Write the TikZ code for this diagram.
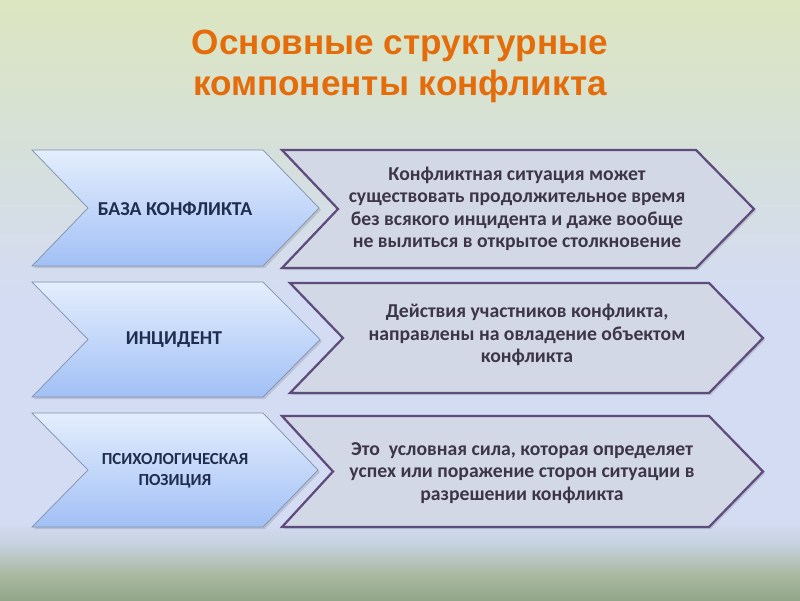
\documentclass[tikz,border=0pt]{standalone}
\usepackage{fontspec}
\setmainfont{Carlito}
\newfontfamily\headfont{Liberation Sans}

\definecolor{titleorange}{HTML}{E46C0A}
\definecolor{leftink}{HTML}{1F2D4E}
\definecolor{rightink}{HTML}{3D3548}
\definecolor{leftedge}{HTML}{8090AC}
\definecolor{leftlight}{HTML}{E4EEFD}
\definecolor{leftdark}{HTML}{A2C0F6}
\definecolor{rightedge}{HTML}{5E4D7C}
\definecolor{rightfill}{HTML}{D3D8E6}
\definecolor{bgtop}{HTML}{DCE6C0}
\definecolor{bgmint}{HTML}{D6E0DA}
\definecolor{bgblue}{HTML}{D4DCF4}
\definecolor{bglow}{HTML}{C4D0DC}
\definecolor{bgfoot}{HTML}{A8B89E}
\definecolor{bgbottom}{HTML}{92A68A}

\pgfdeclareverticalshading{slidebg}{100bp}{color(0bp)=(bgbottom); color(25bp)=(bgbottom);
 color(27bp)=(bgfoot); color(29.5bp)=(bglow); color(31.5bp)=(bgblue); color(50bp)=(bgblue);
 color(62.5bp)=(bgmint); color(75bp)=(bgtop); color(100bp)=(bgtop)}

\begin{document}
\begin{tikzpicture}[x=0.025cm,y=-0.025cm,
 leftbox/.style={draw=leftedge, line width=0.5pt, top color=leftlight, bottom color=leftdark},
 rightbox/.style={draw=rightedge, line width=1.6pt, fill=rightfill},
 boxshadow/.style={fill=black, opacity=0.12},
 heading/.style={font=\headfont\bfseries\fontsize{25}{29}\selectfont, text=titleorange, align=center},
 lefttext/.style={font=\bfseries\fontsize{14}{17}\selectfont, text=leftink, align=center},
 righttext/.style={font=\bfseries\fontsize{14}{16}\selectfont, text=rightink, align=center}]
 % Background
 \fill[shading=slidebg] (0,0) rectangle (800,600);
 \useasboundingbox (0,0) rectangle (800,600);
 % Left chevrons: top/bottom/left/notch/corner/point
 \foreach \t/\b/\l/\n/\c/\p in {150/266/32/88/263/319, 282/397/32/88/263/320, 413/527/32/88/263/318}
 {
  \fill[boxshadow, shift={(2,2)}] (\l,\t) -- (\c,\t) -- (\p,{(\t+\b)/2}) -- (\c,\b) -- (\l,\b) -- (\n,{(\t+\b)/2}) -- cycle;
  \draw[leftbox] (\l,\t) -- (\c,\t) -- (\p,{(\t+\b)/2}) -- (\c,\b) -- (\l,\b) -- (\n,{(\t+\b)/2}) -- cycle;
 }
 % Right chevrons
 \foreach \t/\b/\l/\n/\c/\p in {150/268/282/338/696/754, 283/393/290/343/709/763, 416/527/282/333/709/763}
 {
  \fill[boxshadow, shift={(2,2)}] (\l,\t) -- (\c,\t) -- (\p,{(\t+\b)/2}) -- (\c,\b) -- (\l,\b) -- (\n,{(\t+\b)/2}) -- cycle;
  \draw[rightbox] (\l,\t) -- (\c,\t) -- (\p,{(\t+\b)/2}) -- (\c,\b) -- (\l,\b) -- (\n,{(\t+\b)/2}) -- cycle;
 }
 % Title
 \node[heading] (title) at (400,66) {Основные структурные\\компоненты конфликта};
 % Components
 \node[lefttext] (base) at (175,209) {БАЗА КОНФЛИКТА};
 \node[lefttext] (incident) at (174,340) {ИНЦИДЕНТ};
 \node[lefttext, font=\bfseries\fontsize{12}{15}\selectfont] (position) at (175,471) {ПСИХОЛОГИЧЕСКАЯ\\ПОЗИЦИЯ};
 % Descriptions
 \node[righttext] (situation) at (517,209) {Конфликтная ситуация может\\существовать продолжительное время\\без всякого инцидента и даже вообще\\не вылиться в открытое столкновение};
 \node[righttext] (actions) at (527,335) {Действия участников конфликта,\\направлены на овладение объектом\\конфликта};
 \node[righttext] (force) at (522,473) {Это\ \ условная сила, которая определяет\\успех или поражение сторон ситуации в\\разрешении конфликта};
\end{tikzpicture}
\end{document}
